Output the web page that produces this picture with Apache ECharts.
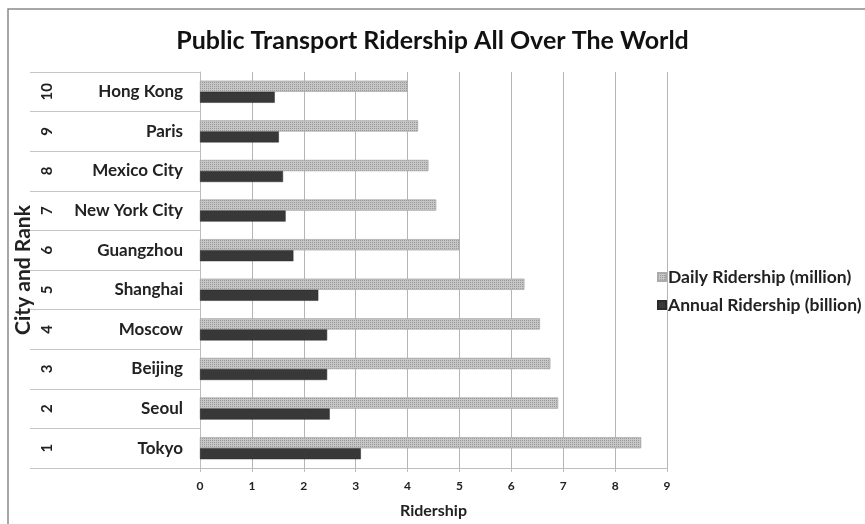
<!DOCTYPE html>
<html>
<head>
<meta charset="utf-8">
<script src="https://cdn.jsdelivr.net/npm/echarts@6/dist/echarts.min.js"></script>
<style>
    html, body { margin: 0; padding: 0; background: #fff; }
    #main { width: 865px; height: 524px; }
</style>
</head>
<body>
<div id="main"></div>
<script>
// cities bottom to top (category axis runs upward)
const cities = ['Tokyo', 'Seoul', 'Beijing', 'Moscow', 'Shanghai', 'Guangzhou',
    'New York City', 'Mexico City', 'Paris', 'Hong Kong'];
const ranks = ['1', '2', '3', '4', '5', '6', '7', '8', '9', '10'];
// daily ridership, million
const daily = [8.5, 6.9, 6.75, 6.55, 6.25, 5.0, 4.55, 4.4, 4.2, 4.0];
// annual ridership, billion
const annual = [3.1, 2.5, 2.45, 2.45, 2.28, 1.8, 1.65, 1.6, 1.52, 1.44];
const xTicks = [0, 9];

const font = 'Lato, "Open Sans", sans-serif';

let chart = echarts.init(document.getElementById('main'));

let option = {
    animation: false,
    backgroundColor: '#fff',
    textStyle: { fontFamily: font },
    title: {
        text: 'Public Transport Ridership All Over The World',
        left: 'center',
        top: 23,
        textStyle: { fontSize: 25, fontWeight: 'bold', color: '#111', fontFamily: font }
    },
    graphic: [{
        type: 'rect',
        shape: { x: 8, y: 9, width: 900, height: 600 },
        style: { fill: 'none', stroke: '#8a8a8a', lineWidth: 1.5 },
        silent: true
    }],
    legend: {
        orient: 'vertical',
        left: 652,
        top: 263,
        itemWidth: 8,
        itemHeight: 8,
        itemGap: 10,
        icon: 'rect',
        textStyle: { fontSize: 17.5, fontWeight: 'bold', color: '#222', fontFamily: font, padding: [0, 0, 0, -3] },
        data: ['Daily Ridership (million)', 'Annual Ridership (billion)']
    },
    grid: { left: 200, right: 198, top: 72, bottom: 52, containLabel: false },
    xAxis: {
        type: 'value',
        min: xTicks[0],
        max: xTicks[1],
        interval: 1,
        name: 'Ridership',
        nameLocation: 'middle',
        nameGap: 35,
        nameTextStyle: { fontSize: 16, fontWeight: 'bold', color: '#222', fontFamily: font },
        axisLine: { show: true, lineStyle: { color: '#bdbdbd', width: 1 } },
        axisTick: { show: true, length: 4, lineStyle: { color: '#bdbdbd' } },
        axisLabel: { fontSize: 12, fontWeight: 'bold', color: '#222', margin: 12, fontFamily: font },
        splitLine: { show: true, lineStyle: { color: '#b5b5b5', width: 1 } }
    },
    yAxis: [{
        type: 'category',
        data: cities,
        position: 'left',
        axisLine: { show: true, lineStyle: { color: '#bdbdbd', width: 1 } },
        axisTick: { show: true, length: 170, lineStyle: { color: '#c4c4c4' } },
        axisLabel: { fontSize: 17, fontWeight: 'bold', color: '#222', margin: 17, fontFamily: font },
        splitLine: { show: false }
    }, {
        type: 'category',
        data: ranks,
        position: 'left',
        offset: 150,
        name: 'City and Rank',
        nameLocation: 'middle',
        nameGap: 16,
        nameMoveOverlap: false,
        nameTextStyle: { fontSize: 21, fontWeight: 'bold', color: '#222', fontFamily: font },
        axisLine: { show: false },
        axisTick: { show: false },
        axisLabel: { rotate: 90, fontSize: 15, fontWeight: 'bold', color: '#222', margin: -5, fontFamily: font },
        splitLine: { show: false }
    }],
    series: [{
        name: 'Daily Ridership (million)',
        type: 'bar',
        yAxisIndex: 0,
        data: daily,
        barWidth: 11,
        barGap: '0%',
        itemStyle: {
            color: '#c6c6c6',
            borderColor: '#aaaaaa',
            borderWidth: 0.5,
            decal: {
                symbol: 'rect',
                symbolSize: 1,
                dashArrayX: [1, 1],
                dashArrayY: [1, 1],
                color: 'rgba(70,70,70,0.35)'
            }
        }
    }, {
        name: 'Annual Ridership (billion)',
        type: 'bar',
        yAxisIndex: 0,
        data: annual,
        barWidth: 11,
        itemStyle: { color: '#383838', borderColor: '#2a2a2a', borderWidth: 0.5 }
    }]
};

chart.setOption(option);
</script>
</body>
</html>
